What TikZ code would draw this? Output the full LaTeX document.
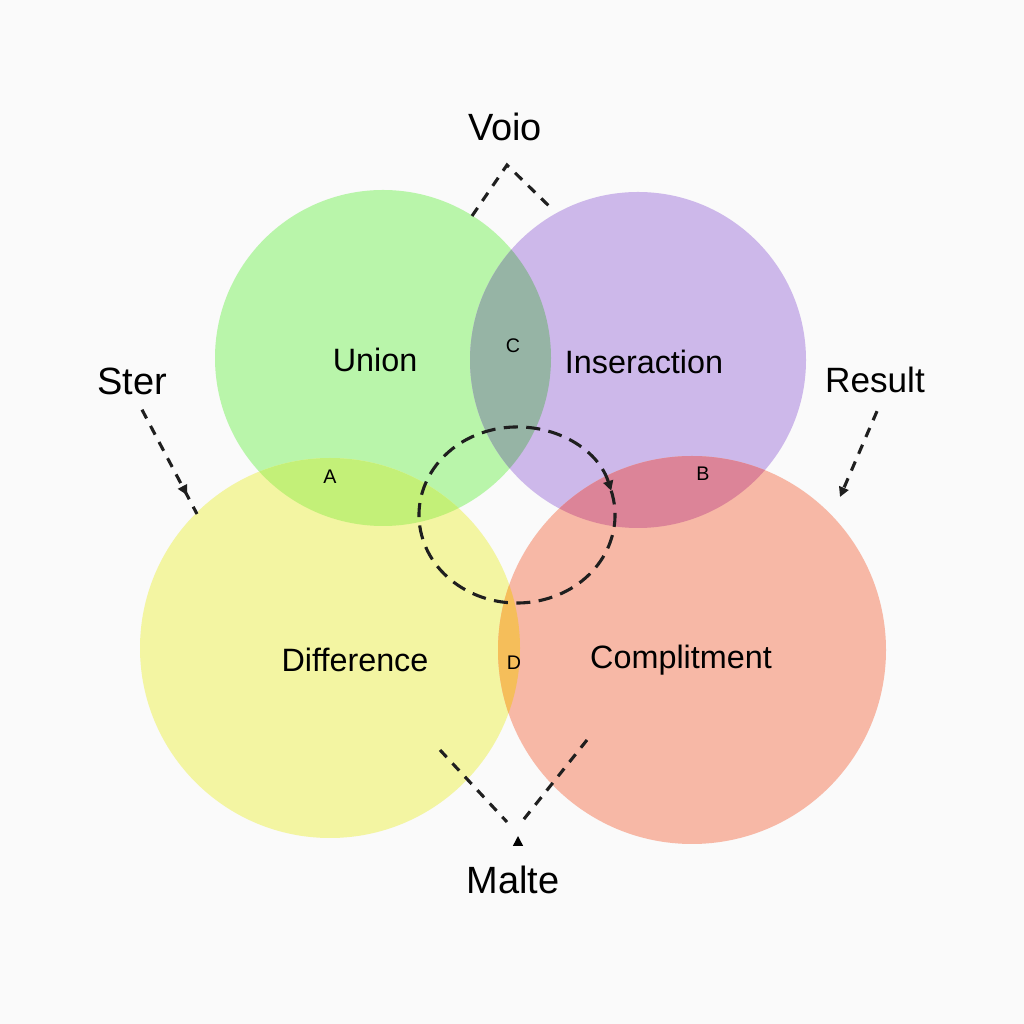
\documentclass[tikz,border=0pt]{standalone}
\usepackage{fontspec}
\setmainfont{Liberation Sans}
\usetikzlibrary{arrows.meta,decorations.markings}
\definecolor{setgreen}{HTML}{B9F5AA}
\definecolor{setpurple}{HTML}{CDB8EA}
\definecolor{setyellow}{HTML}{F3F5A2}
\definecolor{setred}{HTML}{F7B8A6}
\definecolor{gpmix}{HTML}{96B4A5}
\definecolor{gymix}{HTML}{C3F078}
\definecolor{prmix}{HTML}{DC8498}
\definecolor{yrmix}{HTML}{F5BE5A}
\tikzset{
    lbl/.style={font=\fontsize{23}{26}\selectfont, inner sep=0pt},
    biglbl/.style={font=\fontsize{27}{30}\selectfont, inner sep=0pt},
    tinylbl/.style={font=\fontsize{14}{16}\selectfont, inner sep=0pt},
    dashline/.style={line width=2.2pt, dash pattern=on 7pt off 6pt, black!88},
    tip/.style={-{Triangle[length=7pt,width=7pt]}}
}
\newcommand{\greenset}{(383,666) circle[radius=168]}
\newcommand{\purpleset}{(638,664) circle[radius=168]}
\newcommand{\yellowset}{(330,376) circle[radius=190]}
\newcommand{\redset}{(692,374) circle[radius=194]}
\begin{document}
\begin{tikzpicture}[x=0.025cm,y=0.025cm]
    \fill[white!98!black] (0,0) rectangle (1024,1024);
    \useasboundingbox (0,0) rectangle (1024,1024);

    % the four sets
    \fill[setgreen] \greenset;
    \fill[setpurple] \purpleset;
    \fill[setyellow] \yellowset;
    \fill[setred] \redset;

    % overlaps
    \foreach \one/\two/\col in {\greenset/\purpleset/gpmix, \greenset/\yellowset/gymix,
                                \purpleset/\redset/prmix, \yellowset/\redset/yrmix}
    {
        \begin{scope}
            \clip \one;
            \fill[\col] \two;
        \end{scope}
    }

    % dashed ring with arrow
    \coordinate (ring) at (517,509);
    \draw[dashline, tip, dash pattern=on 10pt off 6pt] (ring) ++(16:98 and 88)
        arc[start angle=376, end angle=16, x radius=98, y radius=88];

    % labels
    \node[biglbl] (voio) at (505,897) {Voio};
    \node[biglbl] (ster) at (132,643) {Ster};
    \node[lbl, font=\fontsize{25}{28}\selectfont] (result) at (875,644) {Result};
    \node[biglbl] (malte) at (513,144) {Malte};
    \node[lbl] (union) at (375,664) {Union};
    \node[lbl] (inter) at (644,662) {Inseraction};
    \node[lbl] (diff) at (355,364) {Difference};
    \node[lbl] (compl) at (681,364) {Complitment};
    \node[tinylbl] (c) at (513,678) {C};
    \node[tinylbl] (a) at (330,547) {A};
    \node[tinylbl] (b) at (703,550) {B};
    \node[tinylbl] (d) at (514,361) {D};

    % dashed pointers
    \coordinate (vtop) at (507,859);
    \draw[dashline] (472,808) -- (vtop) -- (550,817);

    \coordinate (sterend) at (197,510);
    \draw[dashline, postaction={decorate},
          decoration={markings, mark=at position 0.82 with {\arrow{Triangle[length=7pt,width=7pt]}}}]
        (ster.south) ++(10,-15) -- (sterend);

    \coordinate (resend) at (840,527);
    \draw[dashline, tip] (result.south) ++(2,-18) -- (resend);

    \coordinate (mjoin) at (513,200);
    \draw[dashline] (440,274) -- (507,202);
    \draw[dashline] (587,284) -- (520,200);
    \draw[tip, line width=1pt] (518,180) -- (518,188);
\end{tikzpicture}
\end{document}
